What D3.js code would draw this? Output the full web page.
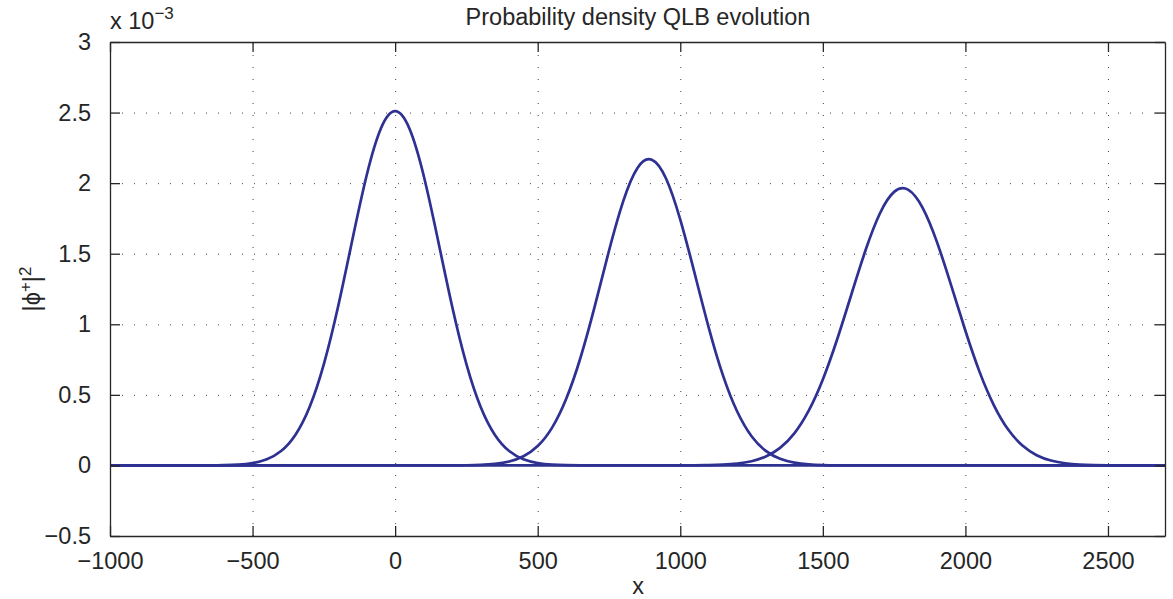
<!DOCTYPE html>
<head>
    <meta charset="utf-8">
    <style>
        body { margin: 0; background: #fff; }
        svg { background-color: #fff; font-family: "Liberation Sans", Arial, sans-serif; }
        text { fill: #262626; }
        path.curve { fill: none; stroke: #2e3192; stroke-width: 2.7px; }
        .grid line { stroke: #444; stroke-width: 1px; stroke-dasharray: 1,11; }
        .grid path { display: none; }
        .axis path, .axis line { stroke: #262626; stroke-width: 1.3px; }
        .axis text { font-size: 23.5px; }
    </style>
</head>
<body>
    <script src="https://d3js.org/d3.v7.min.js"></script>
    <script>
        // sample positions along x
        var xs = [-1000, -950, -900, -850, -800, -750, -700, -650, -600, -550,
                  -500, -450, -400, -350, -300, -250, -200, -150, -100, -50,
                  0, 50, 100, 150, 200, 250, 300, 350, 400, 450,
                  500, 550, 600, 650, 700, 750, 800, 850, 900, 950,
                  1000, 1050, 1100, 1150, 1200, 1250, 1300, 1350, 1400, 1450,
                  1500, 1550, 1600, 1650, 1700, 1750, 1800, 1850, 1900, 1950,
                  2000, 2050, 2100, 2150, 2200, 2250, 2300, 2350, 2400, 2450,
                  2500, 2550, 2600, 2650, 2700];

        // |phi+|^2 in units of 1e-3, one array per time step
        var density_t0 = [0, 0, 0, 0, 0, 0, 0.0001, 0.0005, 0.0019, 0.0059,
                          0.0168, 0.0435, 0.102, 0.216, 0.414, 0.718, 1.126, 1.599, 2.054, 2.387,
                          2.510, 2.387, 2.054, 1.599, 1.126, 0.718, 0.414, 0.216, 0.102, 0.0435,
                          0.0168, 0.0059, 0.0019, 0.0005, 0.0001, 0, 0, 0, 0, 0,
                          0, 0, 0, 0, 0, 0, 0, 0, 0, 0,
                          0, 0, 0, 0, 0, 0, 0, 0, 0, 0,
                          0, 0, 0, 0, 0, 0, 0, 0, 0, 0,
                          0, 0, 0, 0, 0];
        var density_t1 = [0, 0, 0, 0, 0, 0, 0, 0, 0, 0,
                          0, 0, 0, 0, 0, 0, 0, 0, 0, 0,
                          0, 0, 0, 0, 0.0004, 0.0013, 0.0039, 0.0109, 0.0278, 0.0647,
                          0.137, 0.266, 0.472, 0.763, 1.127, 1.521, 1.873, 2.108, 2.166, 2.033,
                          1.742, 1.364, 0.975, 0.636, 0.380, 0.207, 0.103, 0.0466, 0.0194, 0.0073,
                          0.0025, 0.0008, 0.0002, 0, 0, 0, 0, 0, 0, 0,
                          0, 0, 0, 0, 0, 0, 0, 0, 0, 0,
                          0, 0, 0, 0, 0];
        var density_t2 = [0, 0, 0, 0, 0, 0, 0, 0, 0, 0,
                          0, 0, 0, 0, 0, 0, 0, 0, 0, 0,
                          0, 0, 0, 0, 0, 0, 0, 0, 0, 0,
                          0, 0, 0, 0, 0, 0, 0, 0, 0, 0,
                          0.0002, 0.0007, 0.0020, 0.0052, 0.0129, 0.0296, 0.0630, 0.124, 0.227, 0.386,
                          0.609, 0.892, 1.211, 1.526, 1.785, 1.938, 1.952, 1.825, 1.584, 1.276,
                          0.954, 0.661, 0.426, 0.254, 0.141, 0.0726, 0.0347, 0.0154, 0.0063, 0.0024,
                          0.0009, 0.0003, 0.0001, 0, 0];

        var x_ticks = [-1000, -500, 0, 500, 1000, 1500, 2000, 2500];
        var y_ticks = [-0.5, 0, 0.5, 1, 1.5, 2, 2.5, 3];

        var dim = {'w': 1055, 'h': 494,
                   margin: {'left': 110, 'right': 8, 'top': 42, 'bottom': 63}};

        var svg = d3.select('body')
                    .append('svg')
                    .attr('width', 1173)
                    .attr('height', 599);

        var x_scale = d3.scaleLinear().domain([-1000, 2700]).range([0, dim.w]);
        var y_scale = d3.scaleLinear().domain([-0.5, 3]).range([dim.h, 0]);
        var fmt = d3.format('~g');

        var g = svg.append('g')
                   .attr('transform', 'translate(' + dim.margin.left + ',' + dim.margin.top + ')');

        // dotted grid
        g.append('g')
         .attr('class', 'grid')
         .attr('transform', 'translate(0,' + dim.h + ')')
         .call(d3.axisBottom(x_scale).tickValues(x_ticks).tickSize(-dim.h).tickFormat(''));
        g.append('g')
         .attr('class', 'grid')
         .call(d3.axisLeft(y_scale).tickValues(y_ticks).tickSize(-dim.w).tickFormat(''));

        g.append('clipPath').attr('id', 'clip')
         .append('rect').attr('width', dim.w).attr('height', dim.h);

        var line = d3.line()
                     .x((d, i) => x_scale(xs[i]))
                     .y(d => y_scale(d))
                     .curve(d3.curveNatural);

        g.append('g').attr('clip-path', 'url(#clip)')
         .selectAll('path')
         .data([density_t0, density_t1, density_t2])
         .enter()
         .append('path')
         .attr('class', 'curve')
         .attr('d', line);

        // box axes with inward ticks
        var tick = 10;
        g.append('g').attr('class', 'axis')
         .attr('transform', 'translate(0,' + dim.h + ')')
         .call(d3.axisBottom(x_scale).tickValues(x_ticks).tickSizeInner(-tick).tickSizeOuter(0)
                 .tickPadding(16).tickFormat(fmt));
        g.append('g').attr('class', 'axis')
         .call(d3.axisTop(x_scale).tickValues(x_ticks).tickSizeInner(-tick).tickSizeOuter(0).tickFormat(''));
        g.append('g').attr('class', 'axis')
         .call(d3.axisLeft(y_scale).tickValues(y_ticks).tickSizeInner(-tick).tickSizeOuter(0)
                 .tickPadding(19).tickFormat(fmt));
        g.append('g').attr('class', 'axis')
         .attr('transform', 'translate(' + dim.w + ',0)')
         .call(d3.axisRight(y_scale).tickValues(y_ticks).tickSizeInner(-tick).tickSizeOuter(0).tickFormat(''));
        g.selectAll('.axis text').attr('fill', '#262626');

        // exponent label
        var ex = svg.append('text')
                    .attr('x', 110).attr('y', 29)
                    .style('font-size', '23.5px');
        ex.append('tspan').text('x 10');
        ex.append('tspan').attr('dy', -10).style('font-size', '17px').text('\u22123');

        svg.append('text')
           .attr('x', 638).attr('y', 25)
           .attr('text-anchor', 'middle')
           .style('font-size', '23.5px')
           .text('Probability density QLB evolution');

        svg.append('text')
           .attr('x', 638).attr('y', 594)
           .attr('text-anchor', 'middle')
           .style('font-size', '23.5px')
           .text('x');

        var yl = svg.append('text')
                    .attr('transform', 'translate(40,289) rotate(-90)')
                    .attr('text-anchor', 'middle')
                    .style('font-size', '23.5px');
        yl.append('tspan').text('|\u03d5');
        yl.append('tspan').attr('dy', -9).style('font-size', '17px').text('+');
        yl.append('tspan').attr('dy', 9).text('|');
        yl.append('tspan').attr('dy', -9).style('font-size', '17px').text('2');
    </script>
</body>
